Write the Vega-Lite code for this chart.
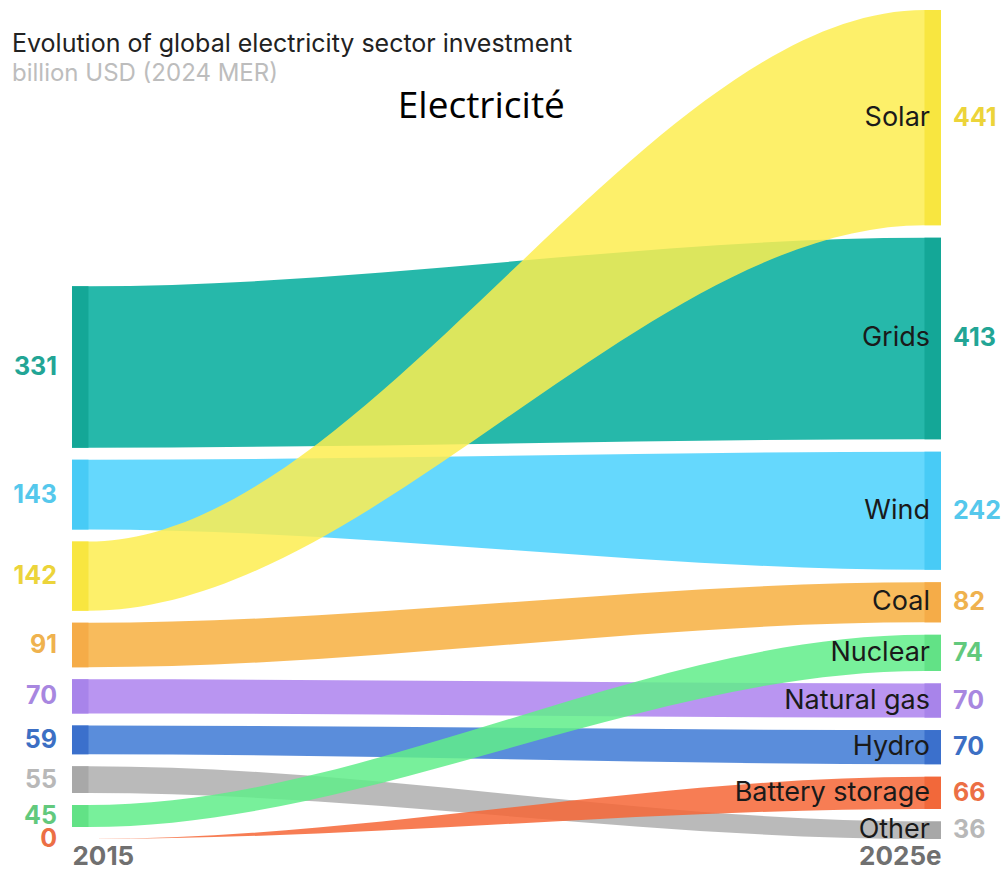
{
  "$schema": "https://vega.github.io/schema/vega-lite/v6.json",
  "width": 1004,
  "height": 874,
  "padding": 0,
  "autosize": "none",
  "background": "white",
  "config": {"view": {"stroke": null}},
  "title": {
    "text": "Evolution of global electricity sector investment",
    "subtitle": "billion USD (2024 MER)",
    "anchor": "start",
    "frame": "group",
    "font": "Inter",
    "fontSize": 25,
    "fontWeight": "normal",
    "color": "#222222",
    "subtitleFont": "Inter",
    "subtitleFontSize": 24,
    "subtitleColor": "#bdbdbd",
    "subtitlePadding": 5,
    "dx": 12,
    "dy": 86,
    "offset": 0
  },
  "data": {
    "values": [
      {"category": "Other", "year": "2015", "value": 55},
      {"category": "Other", "year": "2025e", "value": 36},
      {"category": "Battery storage", "year": "2015", "value": 0},
      {"category": "Battery storage", "year": "2025e", "value": 66},
      {"category": "Hydro", "year": "2015", "value": 59},
      {"category": "Hydro", "year": "2025e", "value": 70},
      {"category": "Natural gas", "year": "2015", "value": 70},
      {"category": "Natural gas", "year": "2025e", "value": 70},
      {"category": "Nuclear", "year": "2015", "value": 45},
      {"category": "Nuclear", "year": "2025e", "value": 74},
      {"category": "Coal", "year": "2015", "value": 91},
      {"category": "Coal", "year": "2025e", "value": 82},
      {"category": "Wind", "year": "2015", "value": 143},
      {"category": "Wind", "year": "2025e", "value": 242},
      {"category": "Grids", "year": "2015", "value": 331},
      {"category": "Grids", "year": "2025e", "value": 413},
      {"category": "Solar", "year": "2015", "value": 142},
      {"category": "Solar", "year": "2025e", "value": 441}
    ]
  },
  "transform": [
    {"window": [{"op": "row_number", "as": "rank"}], "groupby": ["year"], "sort": [{"field": "value", "order": "ascending"}, {"field": "category", "order": "ascending"}]},
    {"stack": "value", "groupby": ["year"], "sort": [{"field": "value", "order": "ascending"}, {"field": "category", "order": "ascending"}], "as": ["s0", "s1"]},
    {"calculate": "datum.year == '2015' ? 24.6 : 25.6", "as": "gap"},
    {"calculate": "datum.s0 + (datum.rank - 1) * datum.gap", "as": "lo"},
    {"calculate": "datum.s1 + (datum.rank - 1) * datum.gap", "as": "hi"},
    {"calculate": "(datum.lo + datum.hi) / 2", "as": "mid"}
  ],
  "resolve": {"scale": {"color": "independent"}},
  "layer": [
    {
      "transform": [
        {"calculate": "0", "as": "outer"},
        {"calculate": "1", "as": "inner"},
        {"fold": ["outer", "inner"], "as": ["edge", "flag"]},
        {"calculate": "datum.year == '2015' ? (datum.edge == 'outer' ? 0 : 1.9) : (datum.edge == 'outer' ? 100 : 98.1)", "as": "px"}
      ],
      "mark": {"type": "area", "interpolate": "monotone", "opacity": 0.85},
      "encoding": {
        "x": {
          "field": "px", "type": "quantitative",
          "scale": {"domain": [-8.285, 107.25], "nice": false, "zero": false},
          "axis": {
            "values": [0, 100],
            "labelExpr": "datum.value == 0 ? '2015' : '2025e'",
            "domain": false, "ticks": false, "grid": false,
            "labelFont": "Inter", "labelFontSize": 26, "labelFontWeight": "bold",
            "labelColor": "#707070",
            "labelAlign": {"condition": {"test": "datum.value == 0", "value": "left"}, "value": "right"},
            "labelBaseline": "top",
            "labelPadding": 0,
            "offset": -31,
            "title": null
          }
        },
        "y": {
          "field": "hi", "type": "quantitative", "stack": null,
          "scale": {"domain": [-71.7, 1719.3], "nice": false, "zero": false},
          "axis": null
        },
        "y2": {"field": "lo"},
        "color": {
          "field": "category", "type": "nominal", "legend": null,
          "scale": {
            "domain": ["Solar", "Grids", "Wind", "Coal", "Nuclear", "Natural gas", "Hydro", "Battery storage", "Other"],
            "range": ["#fded50", "#00ac9b", "#4ad1fd", "#f7af3f", "#60ed89", "#ad83ef", "#3d79d5", "#f66636", "#aeaeae"]
          }
        }
      }
    },
    {
      "transform": [
        {"calculate": "datum.year == '2015' ? 0 : 98.1", "as": "nx0"},
        {"calculate": "datum.year == '2015' ? 1.9 : 100", "as": "nx1"}
      ],
      "mark": {"type": "rect"},
      "encoding": {
        "x": {"field": "nx0", "type": "quantitative", "title": null},
        "x2": {"field": "nx1"},
        "y": {"field": "lo", "type": "quantitative", "axis": null},
        "y2": {"field": "hi"},
        "color": {
          "field": "category", "type": "nominal", "legend": null,
          "scale": {
            "domain": ["Solar", "Grids", "Wind", "Coal", "Nuclear", "Natural gas", "Hydro", "Battery storage", "Other"],
            "range": ["#f8e640", "#14a797", "#48cbf6", "#f5ac48", "#62e286", "#a884ea", "#3b70cc", "#f2683a", "#a8a8a8"]
          }
        }
      }
    },
    {
      "transform": [{"filter": "datum.year == '2015'"}],
      "mark": {"type": "text", "align": "right", "baseline": "middle", "dx": -15, "font": "Inter", "fontSize": 25, "fontWeight": "bold"},
      "encoding": {
        "x": {"datum": 0},
        "y": {"field": "mid", "type": "quantitative", "axis": null},
        "text": {"field": "value", "type": "quantitative"},
        "color": {
          "field": "category", "type": "nominal", "legend": null,
          "scale": {
            "domain": ["Solar", "Grids", "Wind", "Coal", "Nuclear", "Natural gas", "Hydro", "Battery storage", "Other"],
            "range": ["#ecd43a", "#22a595", "#55c8ec", "#efb24e", "#62c97d", "#a887e0", "#3c6fc4", "#ec6f45", "#b8b8b8"]
          }
        }
      }
    },
    {
      "transform": [{"filter": "datum.year == '2025e'"}],
      "mark": {"type": "text", "align": "left", "baseline": "middle", "dx": 12, "font": "Inter", "fontSize": 25, "fontWeight": "bold"},
      "encoding": {
        "x": {"datum": 100},
        "y": {"field": "mid", "type": "quantitative", "axis": null},
        "text": {"field": "value", "type": "quantitative"},
        "color": {
          "field": "category", "type": "nominal", "legend": null,
          "scale": {
            "domain": ["Solar", "Grids", "Wind", "Coal", "Nuclear", "Natural gas", "Hydro", "Battery storage", "Other"],
            "range": ["#ecd43a", "#22a595", "#55c8ec", "#efb24e", "#62c97d", "#a887e0", "#3c6fc4", "#ec6f45", "#b8b8b8"]
          }
        }
      }
    },
    {
      "transform": [{"filter": "datum.year == '2025e'"}],
      "mark": {"type": "text", "align": "right", "baseline": "middle", "dx": -11, "font": "Inter", "fontSize": 27, "color": "#1a1a1a"},
      "encoding": {
        "x": {"datum": 100},
        "y": {"field": "mid", "type": "quantitative", "axis": null},
        "text": {"field": "category", "type": "nominal"}
      }
    },
    {
      "data": {"values": [{"label": "Electricité"}]},
      "mark": {"type": "text", "align": "center", "baseline": "middle", "font": "Open Sans", "fontSize": 37, "color": "#000000"},
      "encoding": {
        "x": {"datum": 47.1},
        "y": {"datum": 1500},
        "text": {"field": "label", "type": "nominal"}
      }
    }
  ]
}
